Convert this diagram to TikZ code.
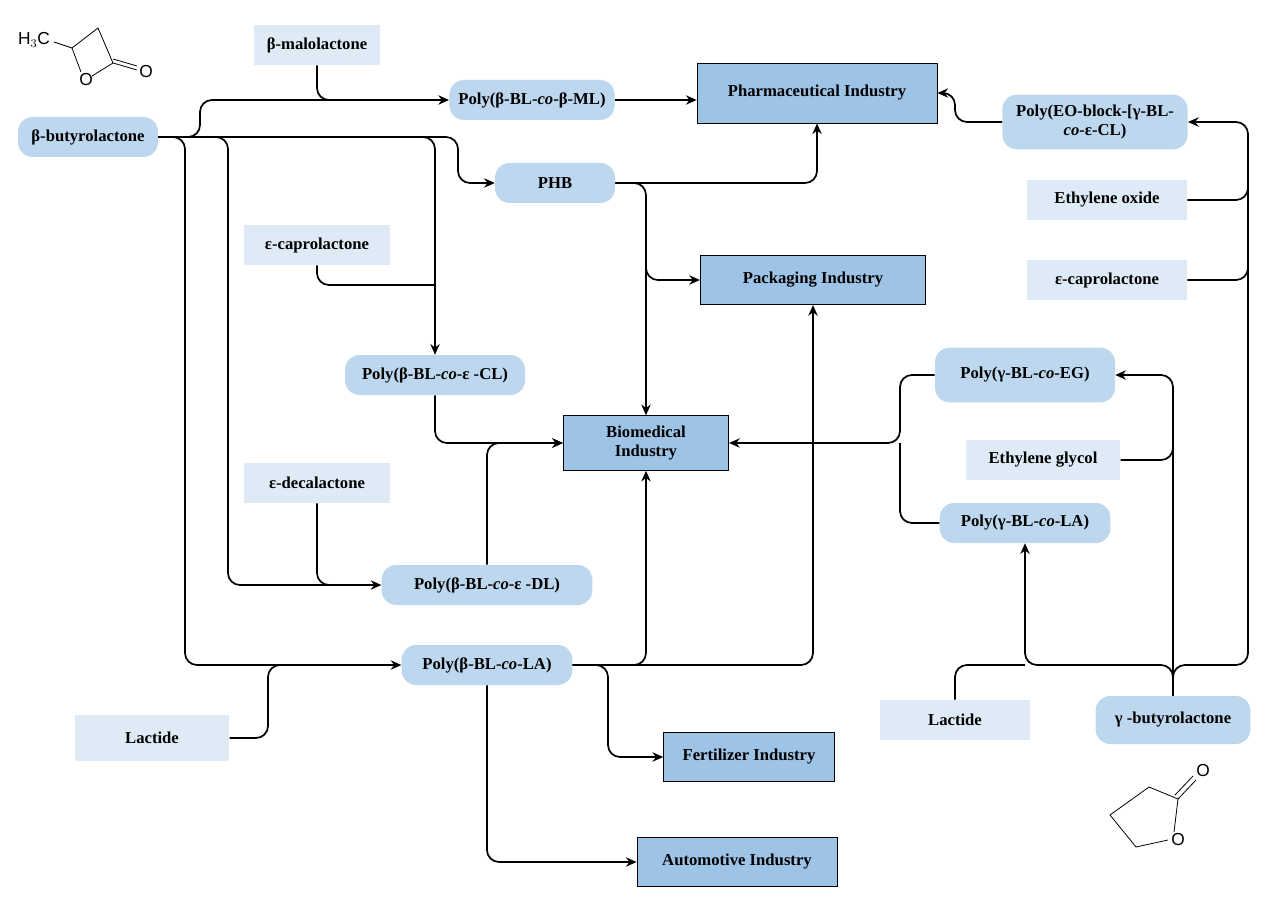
\documentclass[tikz,border=0pt]{standalone}
\usepackage{fontspec}
\setmainfont{Liberation Serif}
\newfontfamily\molfont{Liberation Sans}
\usetikzlibrary{arrows.meta}
\definecolor{pill}{HTML}{BDD7EE}
\definecolor{lite}{HTML}{DEEBF7}
\definecolor{dark}{HTML}{9DC3E6}
\begin{document}
\begin{tikzpicture}[x=0.75pt,y=-0.75pt,
 every node/.style={font=\bfseries\fontsize{12.5}{14}\selectfont,align=center,inner sep=0pt},
 pill/.style={fill=pill,rounded corners=11pt,minimum height=#1},
 pill/.default=30pt,
 lite/.style={fill=lite,minimum height=30pt},
 ind/.style={fill=dark,draw=black,line width=0.6pt,minimum height=37pt},
 con/.style={line width=1.3pt,rounded corners=9pt},
 arr/.style={con,-{Stealth[length=8pt,width=7pt]}},
 mol/.style={line width=0.6pt},
 atom/.style={font=\molfont\fontsize{13}{14}\selectfont}]
\useasboundingbox (0,0) rectangle (1277,909);
% nodes
\node[pill,minimum width=105pt] (bbl) at (88,137) {β-butyrolactone};
\node[lite,minimum width=94pt] (bml) at (317,45) {β-malolactone};
\node[pill,minimum width=124pt] (pml) at (532,100) {Poly(β-BL-\textit{co}-β-ML)};
\node[ind,minimum width=180pt,minimum height=45pt] (pharm) at (817,93) {Pharmaceutical Industry};
\node[pill=41pt,minimum width=139pt] (peo) at (1095,122) {Poly(EO-block-[γ-BL-\\\textit{co}-ε-CL)};
\node[pill,minimum width=90pt] (phb) at (555,183) {PHB};
\node[lite,minimum width=120pt] (eo) at (1107,200) {Ethylene oxide};
\node[lite,minimum width=120pt] (ecr) at (1107,280) {ε-caprolactone};
\node[lite,minimum width=109pt] (ecl) at (317,245) {ε-caprolactone};
\node[ind,minimum width=169pt] (pack) at (813,280) {Packaging Industry};
\node[pill,minimum width=135pt] (pcl) at (435,375) {Poly(β-BL-\textit{co}-ε -CL)};
\node[ind,minimum width=124pt,minimum height=41pt] (bio) at (646,443) {Biomedical\\Industry};
\node[pill=41pt,minimum width=135pt] (peg) at (1025,375) {Poly(γ-BL-\textit{co}-EG)};
\node[lite,minimum width=116pt] (eg) at (1043,460) {Ethylene glycol};
\node[pill,minimum width=128pt] (pgla) at (1025,523) {Poly(γ-BL-\textit{co}-LA)};
\node[lite,minimum width=109pt] (edl) at (317,483) {ε-decalactone};
\node[pill,minimum width=158pt] (pdl) at (487,585) {Poly(β-BL-\textit{co}-ε -DL)};
\node[pill,minimum width=128pt] (pla) at (487,665) {Poly(β-BL-\textit{co}-LA)};
\node[lite,minimum width=116pt,minimum height=34pt] (lacl) at (152,738) {Lactide};
\node[lite,minimum width=112pt] (lacr) at (955,720) {Lactide};
\node[pill=36pt,minimum width=116pt] (gbl) at (1173,720) {γ -butyrolactone};
\node[ind,minimum width=128pt] (fert) at (749,757) {Fertilizer Industry};
\node[ind,minimum width=150pt] (auto) at (737,862) {Automotive Industry};
% connectors left
\draw[arr] (bbl.east) -- (200,137) -- (200,100) -- (pml.west);
\draw[con] (bml.south) -- (317,100) -- (335,100);
\draw[arr] (bbl.east) -- (435,137) -- (pcl.north);
\draw[arr] (bbl.east) -- (458,137) -- (458,183) -- (phb.west);
\draw[con] (ecl.south) -- (317,285) -- (435,285);
\draw[arr] (bbl.east) -- (185,137) -- (185,665) -- (pla.west);
\draw[arr] (bbl.east) -- (228,137) -- (228,585) -- (pdl.west);
\draw[con] (edl.south) -- (317,585) -- (340,585);
\draw[con] (lacl.east) -- (268,738) -- (268,665) -- (300,665);
\draw[arr] (pml.east) -- (pharm.west |- pml.east);
\draw[arr] (phb.east) -| (pharm.south);
\draw[arr] (phb.east) -| (bio.north);
\draw[arr] (646,200) |- (pack.west);
\draw[arr] (pcl.south) |- (bio.west);
\draw[arr] (pdl.north) |- (bio.west);
\draw[arr] (pla.east) -| (bio.south);
\draw[arr] (pla.east) -| (pack.south);
\draw[arr] (pla.east) -- (608,665) |- (fert.west);
\draw[arr] (pla.south) |- (auto.west);
% connectors right
\draw[arr] (peg.west) -- (900,375) -- (900,443) -- (bio.east);
\draw[con] (pgla.west) -- (900,523) -- (900,443);
\draw[arr] (gbl.north) -- (1173,665) -| (pgla.south);
\draw[con] (lacr.north) -- (955,665) -- (1025,665);
\draw[arr] (gbl.north) |- (peg.east);
\draw[con] (eg.east) -- (1173,460) -- (1173,430);
\draw[arr] (gbl.north) -- (1173,665) -- (1248,665) |- (peo.east);
\draw[con] (eo.east) -- (1248,200) -- (1248,170);
\draw[con] (ecr.east) -- (1248,280) -- (1248,250);
\draw[arr] (peo.west) -- (955,122) -- (955,93) -- (pharm.east);
% molecule: beta-butyrolactone
\node[atom] (h3c) at (34,40) {H$_3$C};
\draw[mol] (54,42) -- (72,48) -- (98,28) -- (113,63) -- (92,76);
\draw[mol] (72,48) -- (81,72);
\node[atom] (o1) at (86,80) {O};
\draw[mol] (113,63) -- (137,70); \draw[mol] (113,59) -- (137,66);
\node[atom] (o2) at (146,72) {O};
% molecule: gamma-butyrolactone
\draw[mol] (1174,832) -- (1178,799) -- (1149,787) -- (1110,815) -- (1136,847) -- (1168,840);
\draw[mol] (1178,799) -- (1196,780); \draw[mol] (1175,795) -- (1193,776);
\node[atom] (o3) at (1203,771) {O};
\node[atom] (o4) at (1178,840) {O};
\end{tikzpicture}
\end{document}
